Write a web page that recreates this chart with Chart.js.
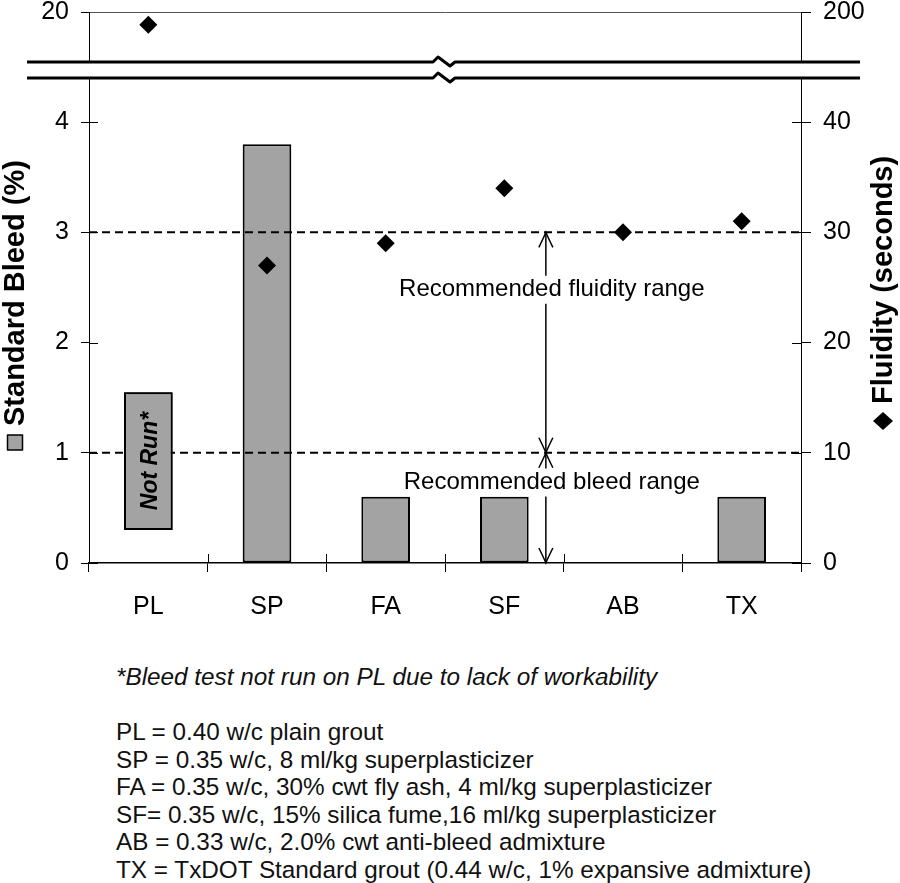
<!DOCTYPE html>
<html>
<head>
<meta charset="utf-8">
<script src="https://cdn.jsdelivr.net/npm/chart.js@4.4.1/dist/chart.umd.min.js"></script>
<style>
html, body { margin: 0; padding: 0; background: #fff; }
body { width: 900px; height: 883px; position: relative; overflow: hidden; font-family: 'Liberation Sans', Arial, Helvetica, sans-serif; }
#topChart { position: absolute; left: 0; top: 0; }
#mainChart { position: absolute; left: 0; top: 50px; }
#notes { position: absolute; left: 116px; top: 663px; font-size: 24.3px; line-height: 27.5px; color: #111; white-space: nowrap; }
#notes .foot { font-style: italic; }
</style>
</head>
<body>
<canvas id="topChart" width="900" height="70"></canvas>
<canvas id="mainChart" width="900" height="590"></canvas>
<div id="notes"></div>
<script>
// chart values
const mixes = ['PL', 'SP', 'FA', 'SF', 'AB', 'TX'];
const bleedPct = [[0.3, 1.55], 3.8, 0.6, 0.6, 0, 0.6];   // PL box = "Not Run" marker
const fluiditySec = [null, 27, 29, 34, 30, 31];
const fluidityHigh = [187, null, null, null, null, null]; // PL, above the axis break
const bleedTicks = [0, 1, 2, 3, 4];
const fluidityTicks = [0, 10, 20, 30, 40];
const bleedTopTicks = [20];
const fluidityTopTicks = [200];
const recFluidity = [10, 30];
const recBleed = [0, 1];
const footnote = '*Bleed test not run on PL due to lack of workability';
const mixNotes = [
  'PL = 0.40 w/c plain grout',
  'SP = 0.35 w/c, 8 ml/kg superplasticizer',
  'FA = 0.35 w/c, 30% cwt fly ash, 4 ml/kg superplasticizer',
  'SF= 0.35 w/c, 15% silica fume,16 ml/kg superplasticizer',
  'AB = 0.33 w/c, 2.0% cwt anti-bleed admixture',
  'TX = TxDOT Standard grout (0.44 w/c, 1% expansive admixture)'
];

const FONT = "'Liberation Sans', Arial, Helvetica, sans-serif";
const BAR_GREY = '#a3a3a3';

const notesDiv = document.getElementById('notes');
notesDiv.innerHTML = '<div class="foot">' + footnote + '</div><div>&nbsp;</div>' +
  mixNotes.map(n => '<div>' + n + '</div>').join('');

function fixTicks(list) {
  return scale => { scale.ticks = list.map(v => ({ value: v })); };
}
function fixWidth(w) {
  return scale => { scale.width = w; scale.paddingTop = 0; scale.paddingBottom = 0; };
}

// inward halves of the tick marks (the ticks cross the axis lines)
const innerTicks = {
  id: 'innerTicks',
  afterDraw(chart) {
    const { ctx, chartArea: a, scales } = chart;
    ctx.save();
    ctx.strokeStyle = '#000';
    ctx.lineWidth = 1;
    ctx.beginPath();
    if (scales.y) scales.y.ticks.forEach(t => {
      const p = Math.round(scales.y.getPixelForValue(t.value)) + 0.5;
      ctx.moveTo(a.left, p); ctx.lineTo(a.left + 9, p);
    });
    if (scales.y1) scales.y1.ticks.forEach(t => {
      const p = Math.round(scales.y1.getPixelForValue(t.value)) + 0.5;
      ctx.moveTo(a.right, p); ctx.lineTo(a.right - 9, p);
    });
    if (scales.x && scales.x.options.display) {
      for (let i = 0; i < mixes.length - 1; i++) {
        const p = Math.round((scales.x.getPixelForValue(i) + scales.x.getPixelForValue(i + 1)) / 2) + 0.5;
        ctx.moveTo(p, a.bottom); ctx.lineTo(p, a.bottom - 9);
      }
    }
    ctx.stroke();
    ctx.restore();
  }
};

function arrowHead(ctx, x, tip, dir) {
  ctx.beginPath();
  ctx.moveTo(x - 7, tip - dir * 15);
  ctx.quadraticCurveTo(x - 2, tip - dir * 5, x, tip);
  ctx.quadraticCurveTo(x + 2, tip - dir * 5, x + 7, tip - dir * 15);
  ctx.stroke();
}

function rangeArrow(ctx, x, top, bottom, gapTop, gapBottom) {
  ctx.beginPath();
  ctx.moveTo(x, top); ctx.lineTo(x, gapTop);
  ctx.moveTo(x, gapBottom); ctx.lineTo(x, bottom);
  ctx.stroke();
  arrowHead(ctx, x, top, -1);
  arrowHead(ctx, x, bottom, 1);
}

const overlay = {
  id: 'overlay',
  afterDatasetsDraw(chart) {
    const { ctx, chartArea: a, scales: { x, y, y1 } } = chart;
    ctx.save();
    // dashed recommended limits
    ctx.strokeStyle = '#000';
    ctx.lineWidth = 2;
    ctx.setLineDash([8, 5]);
    [y.getPixelForValue(recBleed[1]), y1.getPixelForValue(recFluidity[1])].forEach(p => {
      ctx.beginPath(); ctx.moveTo(a.left, p); ctx.lineTo(a.right, p); ctx.stroke();
    });
    ctx.setLineDash([]);

    // "Not Run" box sits above the dashed line
    const box = chart.getDatasetMeta(0).data[0];
    box.draw(ctx);
    ctx.save();
    ctx.translate(box.x + 2, (box.y + box.base) / 2);
    ctx.rotate(-Math.PI / 2);
    ctx.fillStyle = '#000';
    ctx.font = 'italic bold 23px ' + FONT;
    ctx.textAlign = 'center';
    ctx.textBaseline = 'middle';
    ctx.fillText('Not Run*', 0, 0);
    ctx.restore();

    // range arrows and labels
    const ax = x.getPixelForValue(3.35);
    const tx = x.getPixelForValue(3.4);
    ctx.lineWidth = 1.5;
    const fy = y1.getPixelForValue(24.8);
    const by = y.getPixelForValue(0.73);
    rangeArrow(ctx, ax, y1.getPixelForValue(recFluidity[1]), y1.getPixelForValue(recFluidity[0]), fy - 14, fy + 14);
    rangeArrow(ctx, ax, y.getPixelForValue(recBleed[1]), y.getPixelForValue(recBleed[0]), by - 14, by + 14);
    ctx.fillStyle = '#000';
    ctx.font = '24px ' + FONT;
    ctx.textAlign = 'center';
    ctx.textBaseline = 'middle';
    ctx.fillText('Recommended fluidity range', tx, fy);
    ctx.fillText('Recommended bleed range', tx, by);
    ctx.restore();
  },
  afterDraw(chart) {
    const { ctx, chartArea: a } = chart;
    ctx.save();
    // axis break lines
    const mid = (a.left + a.right) / 2;
    ctx.strokeStyle = '#000';
    ctx.lineWidth = 3;
    ctx.lineJoin = 'round';
    [a.top - 16, a.top].forEach(yy => {
      ctx.beginPath();
      ctx.moveTo(27, yy);
      ctx.lineTo(mid - 12, yy);
      ctx.lineTo(mid - 7, yy - 5);
      ctx.lineTo(mid + 5, yy + 4);
      ctx.lineTo(mid + 10, yy);
      ctx.lineTo(860, yy);
      ctx.stroke();
    });

    // axis titles with their series keys
    ctx.font = 'bold 29px ' + FONT;
    ctx.textBaseline = 'middle';
    ctx.textAlign = 'left';
    ctx.fillStyle = '#000';
    ctx.lineWidth = 1.5;

    ctx.save();
    ctx.translate(15, 400);
    ctx.rotate(-Math.PI / 2);
    ctx.fillStyle = BAR_GREY;
    ctx.fillRect(0, -7.5, 15, 15);
    ctx.strokeRect(0, -7.5, 15, 15);
    ctx.fillStyle = '#000';
    ctx.fillText('Standard Bleed (%)', 24, 1);
    ctx.restore();

    ctx.save();
    ctx.translate(883, 380);
    ctx.rotate(-Math.PI / 2);
    ctx.beginPath();
    ctx.moveTo(0, 0); ctx.lineTo(9, -10); ctx.lineTo(18, 0); ctx.lineTo(9, 10); ctx.closePath();
    ctx.fill();
    ctx.fillText('Fluidity (seconds)', 26, 1);
    ctx.restore();

    ctx.restore();
  }
};

const tickFont = { family: FONT, size: 25 };

// upper panel (above the break)
new Chart(document.getElementById('topChart'), {
  type: 'line',
  data: {
    labels: mixes,
    datasets: [{
      data: fluidityHigh,
      yAxisID: 'y1',
      showLine: false,
      pointStyle: 'rectRot',
      pointRadius: 9,
      pointBackgroundColor: '#000',
      pointBorderColor: '#000',
      pointBorderWidth: 0
    }]
  },
  options: {
    responsive: false,
    animation: false,
    layout: { padding: { top: 12, bottom: 8, left: 0, right: 0 } },
    plugins: { legend: { display: false }, tooltip: { enabled: false } },
    scales: {
      x: { type: 'category', offset: true, display: false },
      y: {
        position: 'left', min: 15, max: 20,
        afterBuildTicks: fixTicks(bleedTopTicks), afterFit: fixWidth(89),
        ticks: { font: tickFont, color: '#000', padding: 12 },
        grid: { color: '#555', lineWidth: 1, tickColor: '#000', tickLength: 8 },
        border: { color: '#000', width: 1 }
      },
      y1: {
        position: 'right', min: 150, max: 200,
        afterBuildTicks: fixTicks(fluidityTopTicks), afterFit: fixWidth(99),
        ticks: { font: tickFont, color: '#000', padding: 12 },
        grid: { drawOnChartArea: false, tickColor: '#000', tickLength: 10 },
        border: { color: '#000', width: 1 }
      }
    }
  }
});

// lower panel
new Chart(document.getElementById('mainChart'), {
  type: 'bar',
  data: {
    labels: mixes,
    datasets: [{
      type: 'bar',
      data: bleedPct,
      yAxisID: 'y',
      backgroundColor: BAR_GREY,
      borderColor: '#000',
      borderWidth: 2,
      borderSkipped: false,
      barPercentage: 0.41,
      categoryPercentage: 1,
      order: 2
    }, {
      type: 'line',
      data: fluiditySec,
      yAxisID: 'y1',
      showLine: false,
      pointStyle: 'rectRot',
      pointRadius: 9,
      pointBackgroundColor: '#000',
      pointBorderColor: '#000',
      pointBorderWidth: 0,
      order: 1
    }]
  },
  options: {
    responsive: false,
    animation: false,
    layout: { padding: { top: 28, bottom: 0, left: 0, right: 0 } },
    plugins: { legend: { display: false }, tooltip: { enabled: false } },
    scales: {
      x: {
        type: 'category', offset: true,
        afterFit: s => { s.height = 77; },
        ticks: { font: tickFont, color: '#000', padding: 20 },
        grid: { offset: true, drawOnChartArea: false, color: '#000', tickLength: 9 },
        border: { color: '#000', width: 1.5 }
      },
      y: {
        position: 'left', min: 0, max: 4.4,
        afterBuildTicks: fixTicks(bleedTicks), afterFit: fixWidth(89),
        ticks: { font: tickFont, color: '#000', padding: 12 },
        grid: { drawOnChartArea: false, color: '#000', tickLength: 8 },
        border: { color: '#000', width: 1 }
      },
      y1: {
        position: 'right', min: 0, max: 44,
        afterBuildTicks: fixTicks(fluidityTicks), afterFit: fixWidth(99),
        ticks: { font: tickFont, color: '#000', padding: 12 },
        grid: { drawOnChartArea: false, color: '#000', tickLength: 10 },
        border: { color: '#000', width: 1 }
      }
    }
  },
  plugins: [overlay, innerTicks]
});
</script>
</body>
</html>
